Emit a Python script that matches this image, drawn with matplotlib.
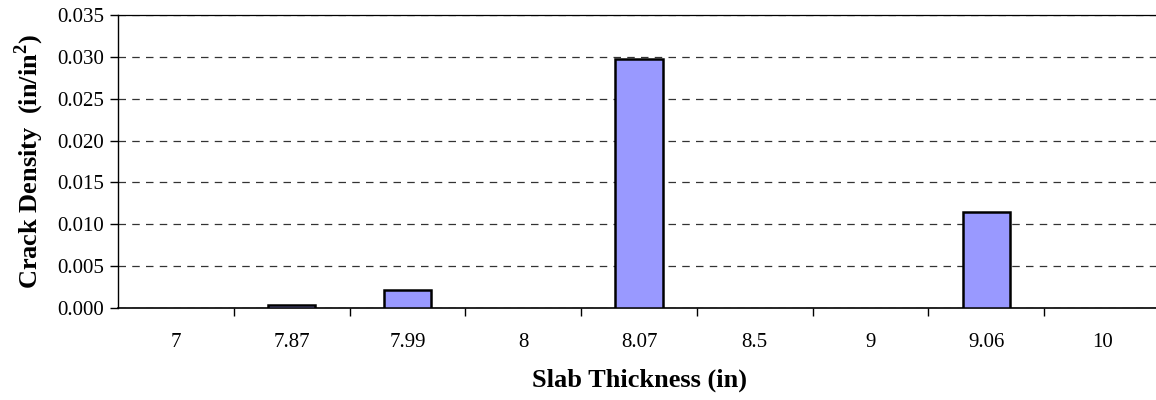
import matplotlib.pyplot as plt
import numpy as np

# slab thickness categories and measured crack density
thickness = ['7', '7.87', '7.99', '8', '8.07', '8.5', '9', '9.06', '10']
crack_density = [0.0, 0.0003, 0.0022, 0.0, 0.0298, 0.0, 0.0, 0.0115, 0.0]

plt.rcParams['font.family'] = ['Liberation Serif', 'DejaVu Serif']
plt.rcParams['mathtext.fontset'] = 'custom'
plt.rcParams['mathtext.rm'] = 'Liberation Serif'
plt.rcParams['mathtext.bf'] = 'Liberation Serif:bold'

fig = plt.figure(figsize=(11.56, 4.0), dpi=100)
ax = fig.add_axes([118 / 1156, 92 / 400, 1042 / 1156, 293 / 400])

x = np.arange(len(thickness))
vals = np.array(crack_density)
nz = vals > 0  # empty categories show no bar at all
ax.bar(x[nz], vals[nz], width=0.41, color='#9999FF', edgecolor='black', linewidth=1.8, zorder=3)

ax.set_xlim(-0.5, len(thickness) - 0.5)
ax.set_ylim(0, 0.035)
yt = np.arange(0, 0.0351, 0.005)
ax.set_yticks(yt)
ax.set_yticklabels([f'{v:.3f}' for v in yt])

# category labels centred, tick marks between categories
ax.set_xticks(x)
ax.set_xticklabels(thickness)
ax.tick_params(axis='x', which='major', length=0, pad=18, labelsize=15)
ax.set_xticks(np.arange(0.5, len(thickness) - 0.5, 1), minor=True)
ax.tick_params(axis='x', which='minor', length=6, width=1, direction='out')
ax.tick_params(axis='y', length=6, width=1, direction='out', labelsize=15, pad=4)

ax.yaxis.grid(True, linestyle=(0, (6, 5)), color='#333333', linewidth=0.9, zorder=0)
ax.spines['right'].set_visible(False)
ax.spines['top'].set_linewidth(0.9)
ax.spines['left'].set_linewidth(1)
ax.spines['bottom'].set_linewidth(1.2)

ax.set_xlabel('Slab Thickness (in)', fontsize=19, fontweight='bold', labelpad=12)
ax.set_ylabel('Crack Density  (in/in$^\\mathbf{2}$)', fontsize=19, fontweight='bold', labelpad=8)

fig.savefig('out.png', dpi=100)
